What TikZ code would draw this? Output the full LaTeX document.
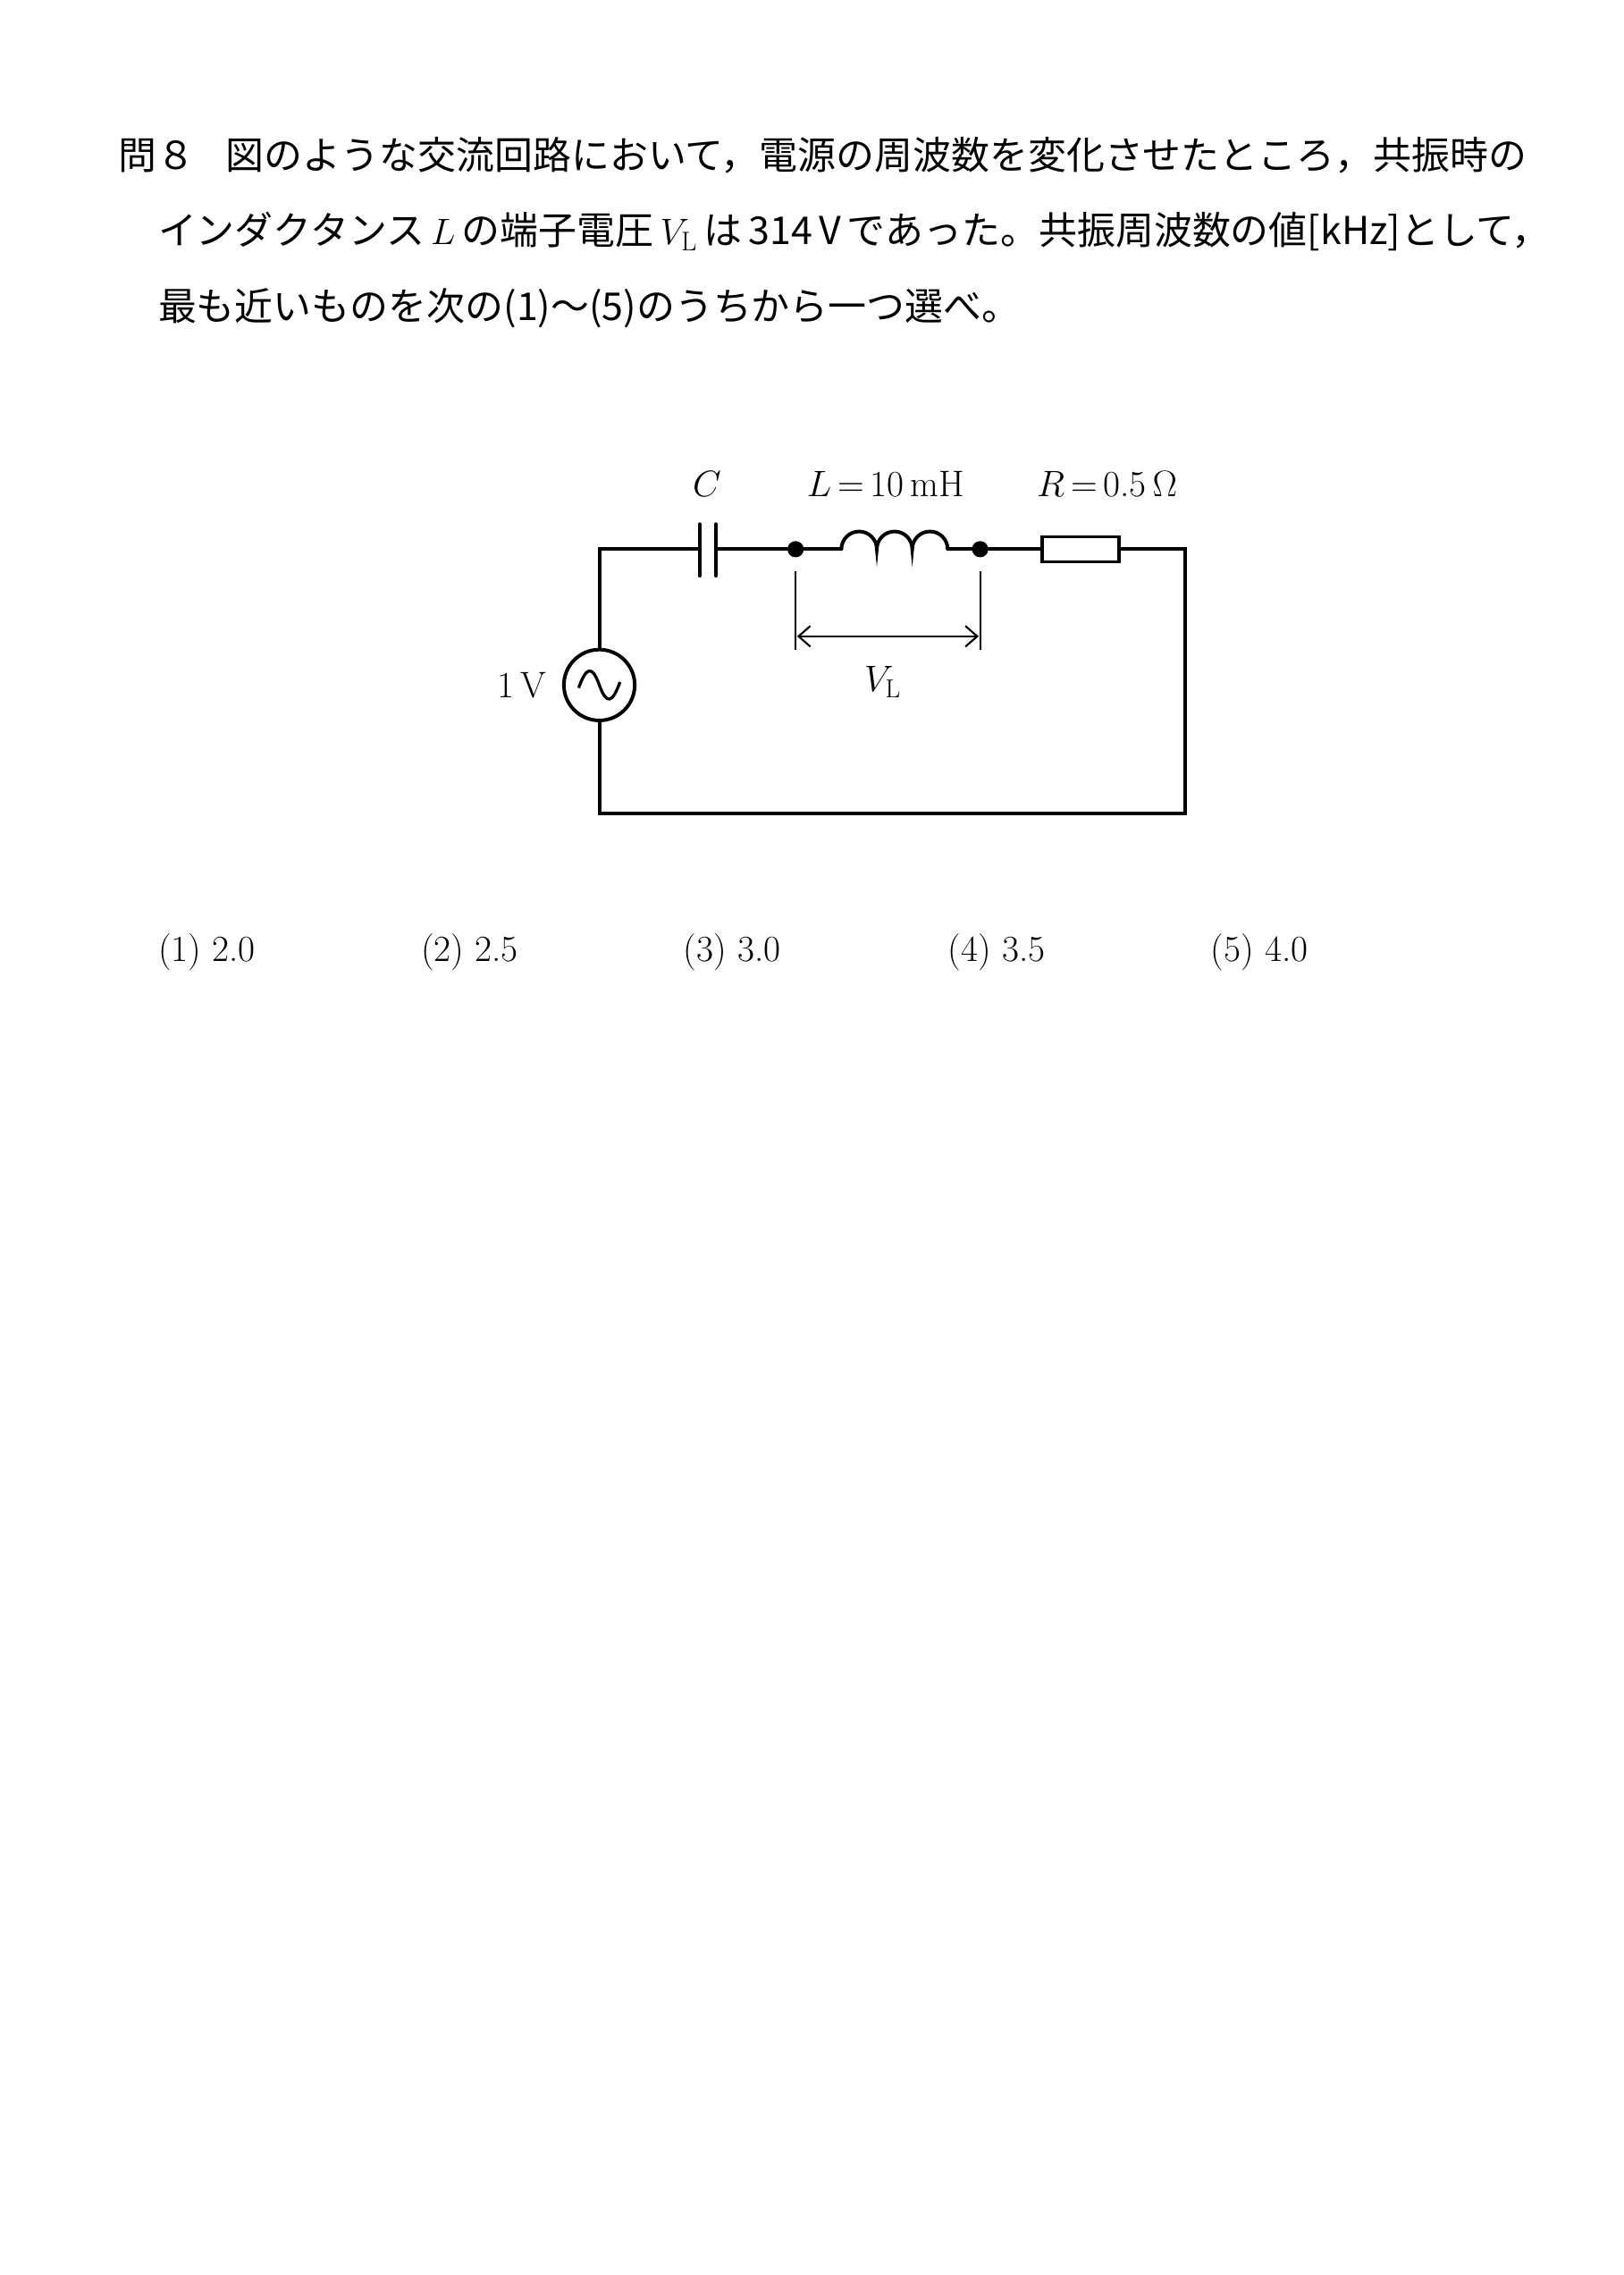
\documentclass[tikz,border=0pt]{standalone}
\usepackage{fontspec}
\newfontfamily\jp{Noto Sans CJK JP}
\usetikzlibrary{arrows.meta}
\begin{document}
\begin{tikzpicture}[x=1pt,y=-1pt,
  wire/.style={line width=2.4pt,line cap=round},
  thin/.style={line width=1.3pt},
  jtxt/.style={anchor=west,inner sep=0,font=\fontsize{26}{30}\selectfont},
  lab/.style={inner sep=0,font=\fontsize{25}{29}\selectfont},
  ans/.style={anchor=west,inner sep=0,font=\fontsize{25}{29}\selectfont}]
\useasboundingbox[fill=white] (0,0) rectangle (1100,1541);
\node[jtxt] (t1) at (80,105) {\jp 問８\hspace{0.8em}図のような交流回路において，電源の周波数を変化させたところ，共振時の};
\node[jtxt] (t2) at (107,157) {\jp インダクタンス\,$L$\,の端子電圧\,$V_{\mathrm{L}}$\,は\,314\,V\,であった。共振周波数の値[kHz]として，};
\node[jtxt] (t3) at (107,209) {\jp 最も近いものを次の(1)〜(5)のうちから一つ選べ。};
% circuit
\coordinate (tl) at (406,372); \coordinate (tr) at (803,372);
\coordinate (bl) at (406,551); \coordinate (br) at (803,551);
\node[circle,draw,line width=2.4pt,minimum size=48pt,inner sep=0] (src) at (406,464) {};
\draw[line width=2pt] (src.center)+(-14,2) .. controls +(5,-14) and +(-5,-14) .. +(0,0) .. controls +(5,14) and +(-5,14) .. +(14,-2);
\coordinate (c1) at (474,372); \coordinate (c2) at (485,372);
\node[circle,fill,inner sep=0,minimum size=11pt] (d1) at (539,372) {};
\node[circle,fill,inner sep=0,minimum size=11pt] (d2) at (664,372) {};
\coordinate (l1) at (570,372); \coordinate (l2) at (642,372);
\node[draw,line width=2pt,minimum width=52pt,minimum height=17pt,inner sep=0] (res) at (732,372) {};
\draw[wire] (src.north) -- (tl) -- (c1);
\draw[wire] (474,355) -- (474,390); \draw[wire] (485,355) -- (485,390);
\draw[wire] (c2) -- (d1) -- (l1);
\draw[wire] (l1) arc[start angle=180,end angle=360,radius=12] arc[start angle=180,end angle=360,radius=12] arc[start angle=180,end angle=360,radius=12];
\draw[wire] (l2) -- (d2) -- (res.west);
\draw[wire] (res.east) -- (tr) -- (br) -- (bl) -- (src.south);
\draw[thin] (539,387) -- (539,440); \draw[thin] (664,387) -- (664,440);
\draw[thin,{Straight Barb[length=8pt,width=14pt]}-{Straight Barb[length=8pt,width=14pt]}] (540,431) -- (663,431);
\node[lab] (lc) at (479,328) {$C$};
\node[lab] (ll) at (600,328) {$L$\,=\,10\,mH};
\node[lab] (lr) at (750,328) {$R$\,=\,0.5\,$\Omega$};
\node[lab,anchor=east] (lv) at (370,464) {1\,V};
\node[lab] (lvl) at (598,462) {$V_{\mathrm{L}}$};
% answers
\node[ans] (a1) at (107,645) {(1) 2.0};
\node[ans] (a2) at (285,645) {(2) 2.5};
\node[ans] (a3) at (463,645) {(3) 3.0};
\node[ans] (a4) at (642,645) {(4) 3.5};
\node[ans] (a5) at (820,645) {(5) 4.0};
\end{tikzpicture}
\end{document}
